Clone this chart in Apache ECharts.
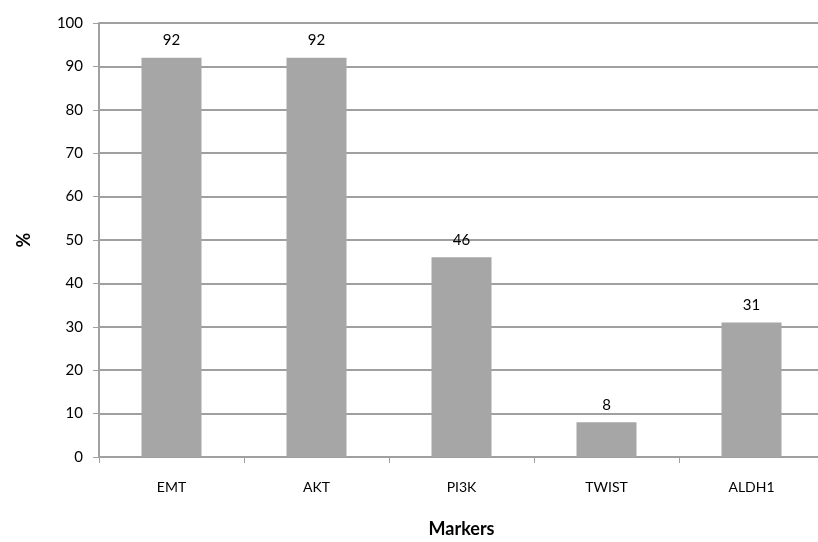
<!DOCTYPE html>
<html>
<head>
<meta charset="utf-8">
<script src="https://cdn.jsdelivr.net/npm/echarts@6/dist/echarts.min.js"></script>
<style>
  html, body { margin: 0; padding: 0; background: #fff; }
  #chart { width: 818px; height: 542px; }
</style>
</head>
<body>
<div id="chart"></div>
<script>
const categories = ['EMT', 'AKT', 'PI3K', 'TWIST', 'ALDH1'];
const values = [92, 92, 46, 8, 31];

const chart = echarts.init(document.getElementById('chart'));
const font = 'Lato, "Open Sans", sans-serif';

const option = {
    animation: false,
    grid: {
        left: 99,
        top: 23,
        width: 725,
        height: 434,
        outerBoundsMode: 'none',
        containLabel: false
    },
    xAxis: {
        type: 'category',
        data: categories,
        name: 'Markers',
        nameLocation: 'middle',
        nameGap: 63,
        nameTextStyle: { fontFamily: font, fontSize: 18, fontWeight: 'bold', color: '#000' },
        axisLine: { lineStyle: { color: '#a0a0a0', width: 2 } },
        axisTick: { show: true, length: 6, lineStyle: { color: '#a0a0a0', width: 1 } },
        axisLabel: { fontFamily: font, fontSize: 14, color: '#000', margin: 23 }
    },
    yAxis: {
        type: 'value',
        min: 0,
        max: 100,
        interval: 10,
        name: '%',
        nameLocation: 'middle',
        nameGap: 66,
        nameRotate: 90,
        nameTextStyle: { fontFamily: font, fontSize: 18, fontWeight: 'bold', color: '#000' },
        axisLine: { show: true, lineStyle: { color: '#a0a0a0', width: 2 } },
        axisTick: { show: true, length: 6, lineStyle: { color: '#a0a0a0' } },
        axisLabel: { fontFamily: font, fontSize: 15, color: '#000', margin: 16 },
        splitLine: { lineStyle: { color: '#a0a0a0', width: 2 } }
    },
    series: [{
        type: 'bar',
        data: values,
        barWidth: 60,
        itemStyle: { color: '#a6a6a6' },
        label: {
            show: true,
            position: 'top',
            distance: 10,
            fontFamily: font,
            fontSize: 15,
            color: '#000'
        }
    }]
};
chart.setOption(option);
</script>
</body>
</html>
